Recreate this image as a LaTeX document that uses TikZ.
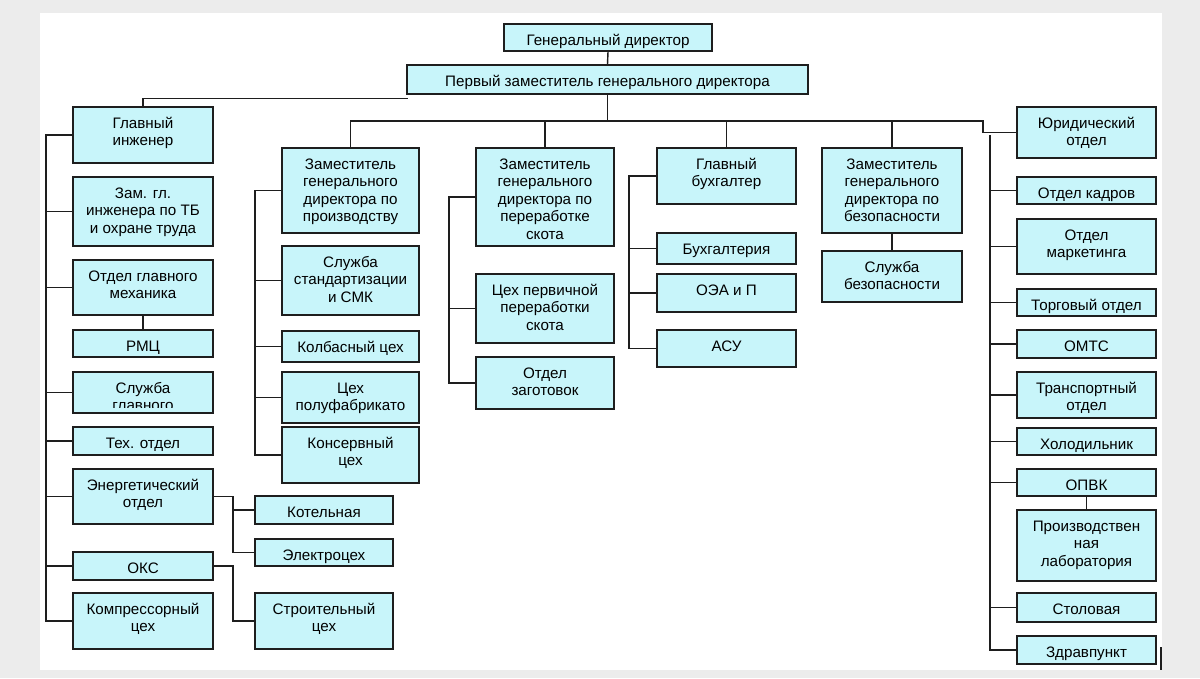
\documentclass[tikz,border=0pt]{standalone}
\usepackage{fontspec}
\setmainfont{Liberation Sans}
\usepackage{tikz}
\definecolor{BoxCyan}{RGB}{200,245,250}
\definecolor{PageGray}{RGB}{236,236,236}
\definecolor{LineDark}{RGB}{30,30,30}

\tikzset{
	boxtext/.style n args={3}{
		align=center,
		font=\fontsize{10.8}{12.5}\selectfont,
		inner xsep=1pt,
		inner ysep=0pt,
		minimum width=#1*0.025cm,
		minimum height=#2*0.025cm,
		text height=0.525cm+#3*12.5pt-12.5pt,
		text depth=#2*0.025cm-0.525cm-#3*12.5pt+12.5pt
	},
	box/.style n args={3}{
		boxtext={#1}{#2}{#3},
		draw=LineDark,
		fill=BoxCyan,
		line width=1pt
	},
	link/.style={draw=LineDark, line width=1pt}
}

\begin{document}
\begin{tikzpicture}[x=0.025cm, y=-0.025cm]
				
				\fill[PageGray] (0,0) rectangle (1200,678);
				\fill[white] (40,13) rectangle (1162,670);
				
				\node[box={208}{27}{1}] (GD) at (608,37.5) {Генеральный директор};
				\node[box={401}{29}{1}] (PZ) at (607.5,79.5) {Первый заместитель генерального директора};
				
				\node[box={140}{56}{2}] (GI) at (143,135) {Главный\\инженер};
				\node[box={140}{69}{3}] (ZGI) at (143,211.5) {Зам. гл.\\инженера по ТБ\\и охране труда};
				\node[box={140}{55}{2}] (OGM) at (143,287.5) {Отдел главного\\механика};
				\node[box={140}{27}{1}] (RMC) at (143,343.5) {РМЦ};
				\node[box={140}{41}{1}] (SGL) at (143,392.5) {};
				\node[box={140}{28}{1}] (TO) at (143,441) {Тех. отдел};
				\node[box={140}{55}{2}] (EO) at (143,496.5) {Энергетический\\отдел};
				\node[box={140}{28}{1}] (OKS) at (143,566) {ОКС};
				\node[box={140}{56}{2}] (KC) at (143,621) {Компрессорный\\цех};
				
				\begin{scope}
					\clip (74,373) rectangle (212,407);
					\node[boxtext={140}{41}{2}] (SGLtext) at (143,392.5) {Служба\\главного};
				\end{scope}
				
				\node[box={138}{28}{1}] (KOT) at (324,510) {Котельная};
				\node[box={138}{27}{1}] (EC) at (324,552.5) {Электроцех};
				\node[box={138}{56}{2}] (SC) at (324,621) {Строительный\\цех};
				
				\node[box={137}{85}{4}] (ZP) at (350.5,190.5) {Заместитель\\генерального\\директора по\\производству};
				\node[box={137}{69}{3}] (SSM) at (350.5,280.5) {Служба\\стандартизации\\и СМК};
				\node[box={137}{31}{1}] (KBC) at (350.5,346.5) {Колбасный цех};
				\node[box={137}{51}{2}] (CPF) at (350.5,397.5) {Цех\\полуфабрикато};
				\node[box={137}{56}{2}] (KNC) at (350.5,455) {Консервный\\цех};
				
				\node[box={138}{98}{5}] (ZM) at (545,197) {Заместитель\\генерального\\директора по\\переработке\\скота};
				\node[box={138}{69}{3}] (CPP) at (545,308.5) {Цех первичной\\переработки\\скота};
				\node[box={138}{52}{2}] (OZ) at (545,383) {Отдел\\заготовок};
				
				\node[box={139}{56}{2}] (GB) at (726.5,176) {Главный\\бухгалтер};
				\node[box={139}{31}{1}] (BUH) at (726.5,248.5) {Бухгалтерия};
				\node[box={139}{38}{1}] (OEA) at (726.5,293) {ОЭА и П};
				\node[box={139}{37}{1}] (ASU) at (726.5,348.5) {АСУ};
				
				\node[box={140}{85}{4}] (ZB) at (892,190.5) {Заместитель\\генерального\\директора по\\безопасности};
				\node[box={140}{51}{2}] (SB) at (892,276.5) {Служба\\безопасности};
				
				\node[box={139}{51}{2}] (YUR) at (1086.5,132.5) {Юридический\\отдел};
				\node[box={139}{27}{1}] (OK) at (1086.5,190.5) {Отдел кадров};
				\node[box={139}{55}{2}] (OM) at (1086.5,246.5) {Отдел\\маркетинга};
				\node[box={139}{27}{1}] (TRG) at (1086.5,302.5) {Торговый отдел};
				\node[box={139}{28}{1}] (OMTS) at (1086.5,344) {ОМТС};
				\node[box={139}{46}{2}] (TR) at (1086.5,395) {Транспортный\\отдел};
				\node[box={139}{27}{1}] (HOL) at (1086.5,441.5) {Холодильник};
				\node[box={139}{27}{1}] (OPVK) at (1086.5,482.5) {ОПВК};
				\node[box={139}{71}{3}] (PL) at (1086.5,545.5) {Производствен\\ная\\лаборатория};
				\node[box={139}{29}{1}] (STOL) at (1086.5,607.5) {Столовая};
				\node[box={139}{28}{1}] (ZDR) at (1086.5,650) {Здравпункт};
				
				\coordinate (TopEnd) at (408,98.5);
				\coordinate (BusJog) at (983,121);
				\coordinate (LeftBus) at (46,0);
				\coordinate (EnergyBus) at (233,0);
				\coordinate (ProdBus) at (255,0);
				\coordinate (MeatBus) at (449,0);
				\coordinate (AccBus) at (629,0);
				\coordinate (RightTop) at (990,135);
				
				\draw[link] (GD.south) -- (PZ.north);
				\draw[link] (PZ.south) -- (PZ.south |- BusJog);
				\draw[link] (ZP.north) |- (BusJog) |- (YUR.west);
				\draw[link] (ZM.north) -- (ZM.north |- BusJog);
				\draw[link] (GB.north) -- (GB.north |- BusJog);
				\draw[link] (ZB.north) -- (ZB.north |- BusJog);
				\draw[link] (GI.north) |- (TopEnd);
				
				\draw[link] (GI.west) -| (LeftBus |- KC.west) -- (KC.west);
				\draw[link] (ZGI.west) -- (ZGI.west -| LeftBus);
				\draw[link] (OGM.west) -- (OGM.west -| LeftBus);
				\draw[link] (SGL.west) -- (SGL.west -| LeftBus);
				\draw[link] (TO.west) -- (TO.west -| LeftBus);
				\draw[link] (EO.west) -- (EO.west -| LeftBus);
				\draw[link] (OKS.west) -- (OKS.west -| LeftBus);
				\draw[link] (OGM.south) -- (RMC.north);
				
				\draw[link] (EO.east) -| (EnergyBus |- EC.west) -- (EC.west);
				\draw[link] (KOT.west) -- (KOT.west -| EnergyBus);
				\draw[link] (OKS.east) -| (EnergyBus |- SC.west) -- (SC.west);
				
				\draw[link] (ZP.west) -| (ProdBus |- KNC.west) -- (KNC.west);
				\draw[link] (SSM.west) -- (SSM.west -| ProdBus);
				\draw[link] (KBC.west) -- (KBC.west -| ProdBus);
				\draw[link] (CPF.west) -- (CPF.west -| ProdBus);
				
				\draw[link] (ZM.west) -| (MeatBus |- OZ.west) -- (OZ.west);
				\draw[link] (CPP.west) -- (CPP.west -| MeatBus);
				
				\draw[link] (GB.west) -| (AccBus |- ASU.west) -- (ASU.west);
				\draw[link] (BUH.west) -- (BUH.west -| AccBus);
				\draw[link] (OEA.west) -- (OEA.west -| AccBus);
				
				\draw[link] (ZB.south) -- (SB.north);
				
				\draw[link] (RightTop) |- (ZDR.west);
				\draw[link] (OK.west) -- (OK.west -| RightTop);
				\draw[link] (OM.west) -- (OM.west -| RightTop);
				\draw[link] (TRG.west) -- (TRG.west -| RightTop);
				\draw[link] (OMTS.west) -- (OMTS.west -| RightTop);
				\draw[link] (TR.west) -- (TR.west -| RightTop);
				\draw[link] (HOL.west) -- (HOL.west -| RightTop);
				\draw[link] (OPVK.west) -- (OPVK.west -| RightTop);
				\draw[link] (STOL.west) -- (STOL.west -| RightTop);
				\draw[link] (OPVK.south) -- (PL.north);
				
				\draw[link] (1161,647) -- (1161,670);
				
			\end{tikzpicture}
\end{document}
